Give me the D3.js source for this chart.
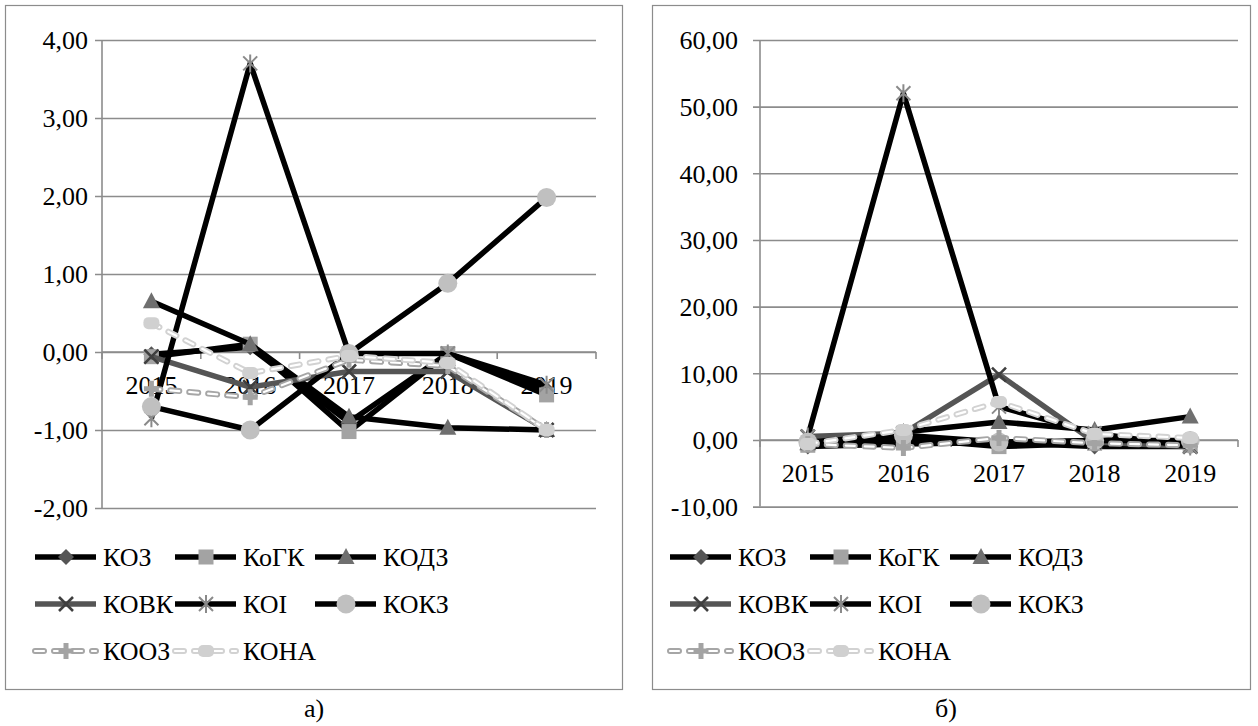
<!DOCTYPE html>
<html>
<head>
<meta charset="utf-8">
<script src="https://cdn.jsdelivr.net/npm/d3@7"></script>
<style>
  body { margin: 0; background: #fff; }
  svg { display: block; }
  svg text { font-family: "Times New Roman", "Liberation Serif", Tinos, "DejaVu Serif", "Noto Serif", serif !important; fill: #000; }
</style>
</head>
<body>
<svg id="chart" width="1258" height="726"></svg>
<script>
// Categories and series names
const years = ["2015", "2016", "2017", "2018", "2019"];
const seriesNames = ["КОЗ", "КоГК", "КОДЗ", "КОВК", "КОІ", "КОКЗ", "КООЗ", "КОНА"];

// Panel а) values
const aKOZ  = [-0.03, 0.06, -0.90, -0.02, -0.48];
const aKOGK = [-0.06, 0.10, -1.02, -0.02, -0.55];
const aKODZ = [0.65, 0.10, -0.83, -0.97, -1.00];
const aKOVK = [-0.06, -0.45, -0.25, -0.25, -1.00];
const aKOI  = [-0.85, 3.70, -0.02, -0.02, -0.42];
const aKOKZ = [-0.70, -1.00, -0.02, 0.88, 1.98];
const aKOOZ = [-0.47, -0.58, -0.10, -0.18, -1.00];
const aKONA = [0.37, -0.27, -0.05, -0.14, -1.00];

// Panel б) values
const bKOZ  = [-1.0, -0.6, -0.4, -1.0, -1.0];
const bKOGK = [-0.8, 0.2, -1.0, -0.5, -0.8];
const bKODZ = [-0.5, 1.2, 2.7, 1.5, 3.5];
const bKOVK = [0.5, 1.0, 9.8, -0.3, -1.0];
const bKOI  = [0.5, 52.0, 5.0, 1.0, -1.0];
const bKOKZ = [-0.3, 0.7, -0.3, -0.1, -0.1];
const bKOOZ = [-0.6, -1.2, 0.3, -0.5, -0.8];
const bKONA = [-0.6, 1.5, 5.7, 0.9, 0.3];

// Axis ticks
const ticksA = [-2, -1, 0, 1, 2, 3, 4];
const ticksB = [-10, 0, 10, 20, 30, 40, 50, 60];

// Series styling
const lineColors   = ["#000", "#000", "#000", "#555555", "#000", "#000", "#a6a6a6", "#d2d2d2"];
const markerTypes  = ["diamond", "square", "triangle", "cross", "asterisk", "circle", "plus", "pill"];
const markerColors = ["#555555", "#a3a3a3", "#6f6f6f", "#3f3f3f", "#8a8a8a", "#c0c0c0", "#a3a3a3", "#d0d0d0"];
const dashed       = [false, false, false, false, false, false, true, true];

const FONT = '"Times New Roman", "Liberation Serif", Tinos, "DejaVu Serif", "Noto Serif", serif';

const svg = d3.select("#chart");
svg.append("rect").attr("width", 1258).attr("height", 726).attr("fill", "#fff");

const fmt = v => d3.format(".2f")(v).replace(".", ",").replace("−", "-");

function drawMarker(g, type, color, cx, cy) {
  const s = g.append("g").attr("transform", `translate(${cx},${cy})`);
  switch (type) {
    case "diamond":
      s.append("path").attr("d", "M0,-8L8,0L0,8L-8,0Z").attr("fill", color); break;
    case "square":
      s.append("rect").attr("x", -7.5).attr("y", -7.5).attr("width", 15).attr("height", 15).attr("fill", color); break;
    case "triangle":
      s.append("path").attr("d", "M0,-9L8.5,7L-8.5,7Z").attr("fill", color); break;
    case "cross":
      s.append("path").attr("d", "M-7,-7L7,7M-7,7L7,-7").attr("stroke", color).attr("stroke-width", 2.6).attr("fill", "none"); break;
    case "asterisk":
      s.append("path").attr("d", "M-7,-7L7,7M-7,7L7,-7M0,-9L0,9").attr("stroke", color).attr("stroke-width", 2).attr("fill", "none"); break;
    case "circle":
      s.append("circle").attr("r", 9.5).attr("fill", color); break;
    case "plus":
      s.append("path").attr("d", "M-7.5,0L7.5,0M0,-8L0,8").attr("stroke", color).attr("stroke-width", 5).attr("fill", "none"); break;
    case "pill":
      s.append("rect").attr("x", -8).attr("y", -6).attr("width", 16).attr("height", 12).attr("rx", 5).attr("fill", color); break;
  }
}

function strokeSeries(g, pathD, i) {
  if (dashed[i]) {
    g.append("path").attr("d", pathD).attr("fill", "none")
      .attr("stroke", lineColors[i]).attr("stroke-width", 6)
      .attr("stroke-dasharray", "9 10").attr("stroke-linecap", "round").attr("stroke-linejoin", "round");
    g.append("path").attr("d", pathD).attr("fill", "none")
      .attr("stroke", "#fff").attr("stroke-width", 2.2)
      .attr("stroke-dasharray", "9 10").attr("stroke-linecap", "round").attr("stroke-linejoin", "round");
  } else {
    g.append("path").attr("d", pathD).attr("fill", "none")
      .attr("stroke", lineColors[i]).attr("stroke-width", 5.5)
      .attr("stroke-linejoin", "round");
  }
}

function drawPanel(cfg) {
  const g = svg.append("g");
  // outer frame
  g.append("rect").attr("x", cfg.frame[0] + 0.5).attr("y", cfg.frame[1] + 0.5)
    .attr("width", cfg.frame[2]).attr("height", cfg.frame[3])
    .attr("fill", "none").attr("stroke", "#8c8c8c").attr("stroke-width", 1.2);

  const x = d3.scaleBand().domain(years).range([cfg.plot[0], cfg.plot[1]]);
  const y = d3.scaleLinear().domain(cfg.domain).range([cfg.plot[3], cfg.plot[2]]);

  // horizontal gridlines with outward ticks and labels
  const yAxis = d3.axisLeft(y).tickValues(cfg.ticks).tickFormat(fmt)
    .tickSize(-(cfg.plot[1] - cfg.plot[0])).tickPadding(0);
  const ya = g.append("g").attr("transform", `translate(${cfg.plot[0]},0)`).call(yAxis)
    .attr("font-family", FONT).attr("font-size", 26);
  ya.select(".domain").remove();
  ya.selectAll(".tick line").attr("stroke", "#8c8c8c").attr("stroke-width", 1.6)
    .attr("x1", -7).attr("x2", cfg.plot[1] - cfg.plot[0]);
  ya.selectAll(".tick text").attr("x", -cfg.labelGap).attr("dy", "0.34em").attr("fill", "#000");

  // vertical axis line
  g.append("line").attr("x1", cfg.plot[0]).attr("x2", cfg.plot[0])
    .attr("y1", cfg.plot[2]).attr("y2", cfg.plot[3])
    .attr("stroke", "#8c8c8c").attr("stroke-width", 1.6);

  // category axis at zero
  const y0 = y(0);
  const xa = g.append("g").attr("transform", `translate(0,${y0})`)
    .call(d3.axisBottom(x).tickSize(0).tickPadding(0))
    .attr("font-family", FONT).attr("font-size", 26);
  xa.select(".domain").attr("stroke", "#8c8c8c").attr("stroke-width", 1.6)
    .attr("d", `M${cfg.plot[0]},0H${cfg.plot[1]}`);
  xa.selectAll(".tick text").attr("y", 42).attr("dy", null).attr("fill", "#000");
  // tick marks between categories
  const bounds = years.map(d => x(d)).concat([cfg.plot[1]]);
  xa.selectAll(".sep").data(bounds).join("line").attr("class", "sep")
    .attr("x1", d => d).attr("x2", d => d).attr("y1", 0).attr("y2", 7)
    .attr("stroke", "#8c8c8c").attr("stroke-width", 1.6);

  // series
  const line = d3.line().x((d, j) => x(years[j]) + x.bandwidth() / 2).y(d => y(d));
  const sg = g.append("g");
  cfg.series.forEach((vals, i) => {
    const gi = sg.append("g");
    strokeSeries(gi, line(vals), i);
    vals.forEach((v, j) => drawMarker(gi, markerTypes[i], markerColors[i], x(years[j]) + x.bandwidth() / 2, y(v)));
  });

  // legend
  const lg = g.append("g");
  seriesNames.forEach((name, i) => {
    const col = i % 3, row = Math.floor(i / 3);
    const lx = cfg.legendX + col * 140;
    const ly = cfg.legendY[row];
    const li = lg.append("g");
    strokeSeries(li, `M${lx + 2},${ly}H${lx + 63}`, i);
    drawMarker(li, markerTypes[i], markerColors[i], lx + 33, ly);
    li.append("text").attr("x", lx + 70).attr("y", ly + 9)
      .attr("font-family", FONT).attr("font-size", 26).text(name);
  });

  // caption
  svg.append("text").attr("x", cfg.captionX).attr("y", 717).attr("text-anchor", "middle")
    .attr("font-family", FONT).attr("font-size", 26).text(cfg.caption);
}

drawPanel({
  frame: [5, 5, 617, 684],
  plot: [102, 596, 40, 508],
  domain: [-2, 4],
  ticks: ticksA,
  labelGap: 14,
  series: [aKOZ, aKOGK, aKODZ, aKOVK, aKOI, aKOKZ, aKOOZ, aKONA],
  legendX: 33,
  legendY: [557, 604, 651],
  caption: "а)",
  captionX: 314
});

drawPanel({
  frame: [652, 5, 598, 684],
  plot: [760, 1238, 40, 506.6],
  domain: [-10, 60],
  ticks: ticksB,
  labelGap: 22,
  series: [bKOZ, bKOGK, bKODZ, bKOVK, bKOI, bKOKZ, bKOOZ, bKONA],
  legendX: 668,
  legendY: [557, 604, 651],
  caption: "б)",
  captionX: 946
});
</script>
</body>
</html>
